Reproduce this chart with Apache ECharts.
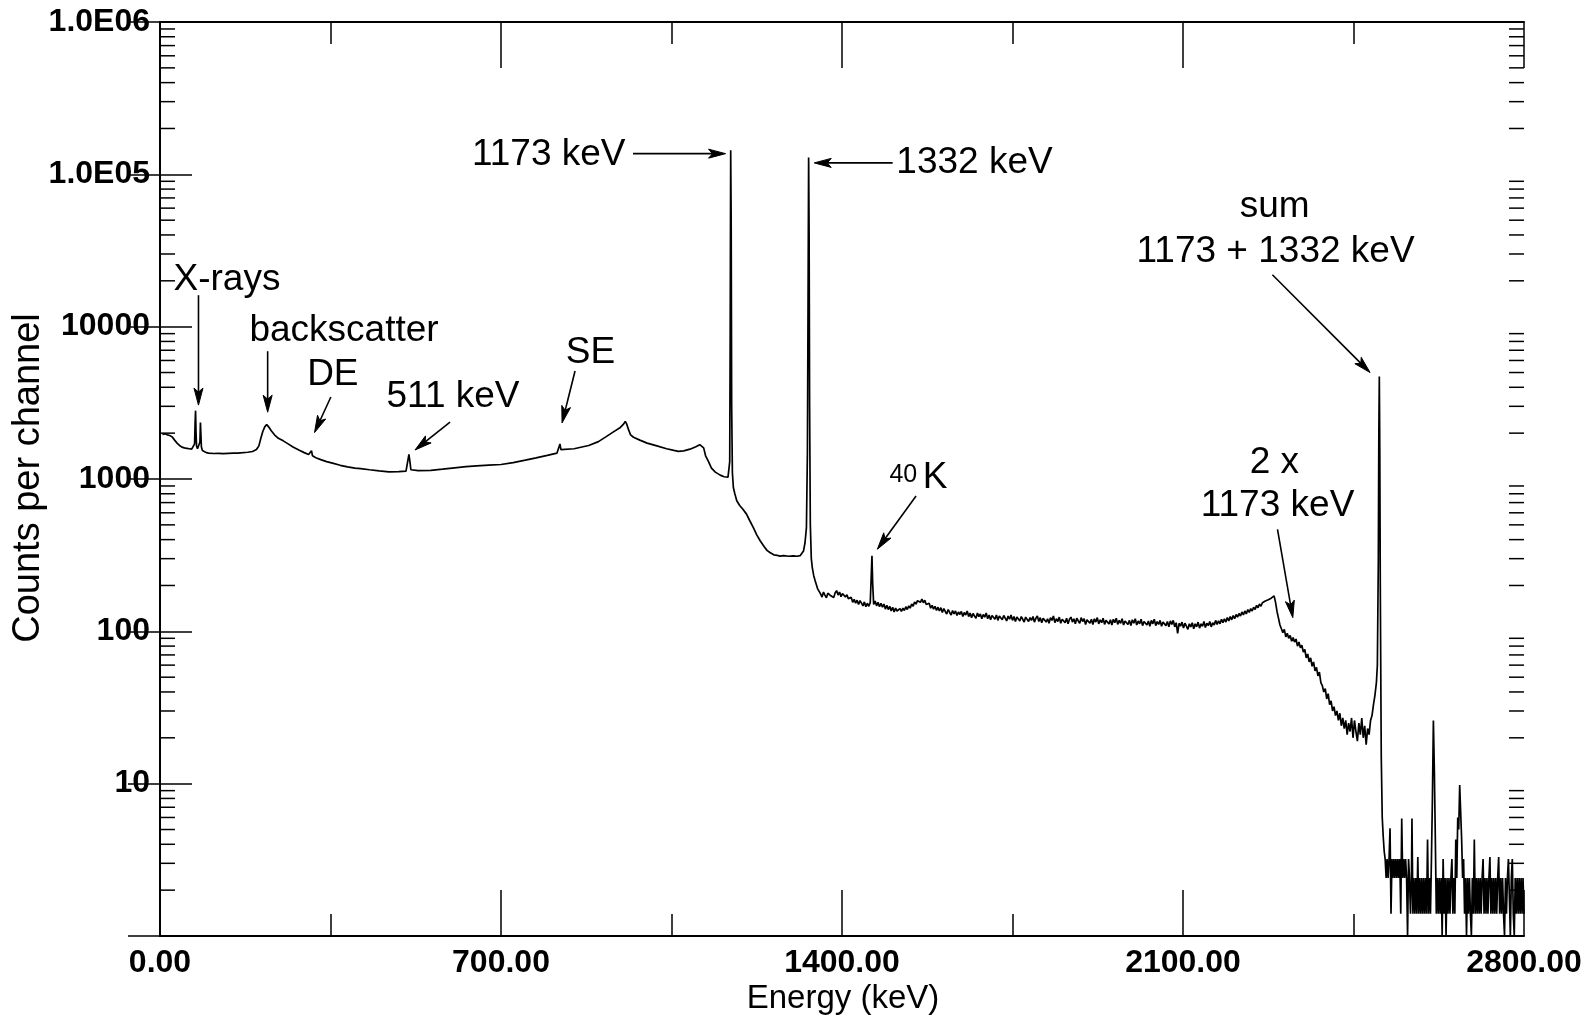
<!DOCTYPE html>
<html><head><meta charset="utf-8">
<script src="https://cdn.jsdelivr.net/npm/echarts@6/dist/echarts.min.js"></script>
<style>html,body{margin:0;padding:0;background:#fff}#chart{width:1596px;height:1018px}</style>
</head><body><div id="chart"></div>
<script>
// ---- axis ticks / labels ----
const xTickValues = [0, 700, 1400, 2100, 2800];
const xTickLabels = ['0.00', '700.00', '1400.00', '2100.00', '2800.00'];
const yTickValues = [1, 10, 100, 1000, 10000, 100000, 1000000];
const yTickLabels = ['', '10', '100', '1000', '10000', '1.0E05', '1.0E06'];
const yMinorMultipliers = [2, 3, 4, 5, 6, 7, 8, 9];
const yDecades = [1, 10, 100, 1000, 10000, 100000];
const xAxisTitle = 'Energy (keV)';
const yAxisTitle = 'Counts per channel';

// ---- spectrum: [energy keV, counts per channel] ----
const lowRegion = [[5,1960],[10,1980],[15,1950],[20,1930],[25,1890],[30,1800],[35,1720],[40,1660],[45,1620],[50,1600],[55,1590],[60,1580],[65,1570],[69,1590],[71,1700],[72,2300],[73,2810],[74,2000],[75,1650],[77,1580],[80,1560],[82,1750],[83,2350],[84,1950],[85,1620],[87,1540],[90,1510],[95,1490],[100,1480],[110,1470],[120,1475],[130,1468],[140,1474],[150,1478],[160,1480],[170,1488],[180,1498],[190,1515],[198,1560],[203,1650],[207,1850],[211,2050],[215,2200],[219,2280],[223,2200],[228,2080],[235,1950],[243,1850],[253,1780],[263,1700],[273,1620],[285,1550],[296,1490],[305,1450],[309,1430],[311,1535],[313,1420],[320,1380],[330,1340],[342,1300],[354,1270],[370,1230],[385,1200],[400,1180],[412,1170],[430,1150],[450,1130],[470,1115],[490,1118],[505,1125],[509,1140],[511,1450],[513,1300],[515,1150],[530,1135],[556,1140],[580,1160],[600,1180],[628,1205],[650,1220],[675,1235],[700,1245],[725,1280],[750,1330],[772,1377],[795,1430],[815,1480],[819,1490],[821,1700],[823,1560],[826,1520],[850,1580],[880,1660],[900,1760],[916,1897],[930,2030],[945,2180],[952,2300],[955,2390],[958,2300],[962,2100],[966,1950],[972,1880],[985,1800],[1000,1720],[1020,1650],[1040,1580],[1055,1540],[1064,1520],[1075,1530],[1088,1570],[1100,1630],[1108,1680],[1112,1700],[1116,1600],[1120,1420],[1126,1300],[1132,1180],[1140,1110],[1150,1060],[1158,1035],[1166,1030]];
const peak1173 = [[1168,1045],[1169.5,1300],[1170.5,9000],[1171.5,144000],[1172.5,50000],[1173.5,3000],[1175,1100],[1177,880]];
const comptonValley = [[1180,800],[1184,720],[1190,670],[1197,630],[1204,588],[1211,530],[1218,480],[1225,430],[1232,393],[1240,360],[1246,340],[1252,329],[1260,318],[1267,315],[1273,312],[1280,314],[1290,311],[1300,313],[1308,311],[1314,314],[1318,320],[1321,337],[1324,380],[1327,480]];
const peak1332 = [[1329,1500],[1330.5,20000],[1331.5,129000],[1332.5,40000],[1333.5,3000],[1335,500],[1337,300],[1339,262],[1342,232],[1345,214],[1350,190]];
const plateau = [[1356,176],[1359,168],[1362,181],[1365,173],[1368,166],[1371,178],[1374,183],[1377,171],[1380,176],[1383,167],[1386,179],[1389,185],[1392,173],[1395,181],[1398,169],[1401,177],[1404,182],[1407,168],[1410,174],[1413,164],[1416,161],[1419,167],[1422,155],[1425,162],[1428,153],[1431,160],[1434,150],[1437,159],[1440,153],[1443,147],[1446,156],[1449,145],[1452,153],[1455,146],[1458,154],[1460,230],[1461.5,313],[1463,205],[1465,150],[1468,158],[1471,147],[1474,155],[1477,145],[1480,153],[1483,144],[1486,151],[1489,140],[1492,148],[1495,139],[1498,146],[1501,136],[1504,144],[1507,134],[1510,142],[1513,136],[1516,132],[1519,141],[1522,135],[1525,142],[1528,137],[1531,145],[1534,139],[1537,147],[1540,142],[1543,151],[1546,146],[1549,156],[1552,151],[1555,159],[1558,162],[1561,155],[1564,163],[1567,154],[1570,160],[1573,150],[1576,147],[1579,153],[1582,142],[1585,148],[1588,140],[1591,146],[1594,137],[1597,144],[1600,136],[1603,143],[1606,133],[1609,141],[1612,135],[1615,130],[1618,139],[1621,133],[1624,128],[1627,137],[1630,130],[1633,136],[1636,127],[1639,134],[1642,129],[1645,135],[1648,125],[1651,133],[1654,128],[1657,136],[1660,125],[1663,132],[1666,123],[1669,131],[1672,126],[1675,122],[1678,132],[1681,125],[1684,130],[1687,121],[1690,129],[1693,124],[1696,132],[1699,121],[1702,128],[1705,119],[1708,127],[1711,130],[1714,120],[1717,128],[1720,118],[1723,126],[1726,129],[1729,119],[1732,127],[1735,122],[1738,117],[1741,126],[1744,120],[1747,128],[1750,118],[1753,125],[1756,116],[1759,124],[1762,127],[1765,117],[1768,125],[1771,120],[1774,115],[1777,124],[1780,127],[1783,116],[1786,123],[1789,118],[1792,125],[1795,115],[1798,122],[1801,126],[1804,116],[1807,123],[1810,114],[1813,122],[1816,125],[1819,115],[1822,121],[1825,113],[1828,123],[1831,118],[1834,126],[1837,114],[1840,121],[1843,116],[1846,124],[1849,113],[1852,120],[1855,123],[1858,114],[1861,122],[1864,112],[1867,120],[1870,124],[1873,115],[1876,121],[1879,112],[1882,122],[1885,117],[1888,113],[1891,123],[1894,116],[1897,121],[1900,111],[1903,119],[1906,122],[1909,113],[1912,120],[1915,111],[1918,121],[1921,115],[1924,123],[1927,112],[1930,119],[1933,114],[1936,122],[1939,111],[1942,118],[1945,121],[1948,112],[1951,119],[1954,110],[1957,120],[1960,114],[1963,122],[1966,111],[1969,118],[1972,113],[1975,121],[1978,110],[1981,117],[1984,120],[1987,111],[1990,118],[1993,109],[1996,119],[1999,113],[2002,121],[2005,110],[2008,117],[2011,112],[2014,120],[2017,109],[2020,116],[2023,119],[2026,110],[2029,117],[2032,108],[2035,118],[2038,112],[2041,120],[2044,109],[2047,116],[2050,111],[2053,118],[2056,108],[2059,115],[2062,118],[2065,109],[2068,116],[2071,107],[2074,117],[2077,111],[2080,118],[2083,107],[2086,114],[2089,97],[2092,113],[2095,108],[2098,115],[2101,105],[2104,113],[2107,108],[2110,103],[2113,112],[2116,107],[2119,114],[2122,104],[2125,112],[2128,107],[2131,115],[2134,105],[2137,112],[2140,108],[2143,116],[2146,106],[2149,113],[2152,109],[2155,116],[2158,107],[2161,114],[2164,110],[2167,118],[2170,111],[2173,117],[2176,112],[2179,120],[2182,114],[2185,121],[2188,115],[2191,123],[2194,117],[2197,125],[2200,119],[2203,127],[2206,121],[2209,129],[2212,124],[2215,131],[2218,126],[2221,134],[2224,128],[2227,136],[2230,130],[2233,139],[2236,133],[2239,141],[2242,136],[2245,144],[2248,139],[2251,148],[2254,143],[2257,151],[2260,146],[2263,154],[2266,150],[2269,158],[2272,154],[2275,161],[2278,157],[2281,165],[2284,168],[2287,171],[2290,155],[2293,135],[2296,122]];
const sumEdgeRegion = [[2299,110],[2302,104],[2305,98],[2308,103],[2311,92],[2314,97],[2317,90],[2320,94],[2323,86],[2326,91],[2329,85],[2332,89],[2335,80],[2338,85],[2341,78],[2344,81],[2347,73],[2350,76],[2353,67],[2356,71],[2359,63],[2362,67],[2365,59],[2368,63],[2371,55],[2374,58],[2377,51],[2380,54],[2383,46],[2386,44],[2389,40],[2392,42],[2395,36],[2398,39],[2401,33],[2404,35],[2407,30],[2410,32],[2413,28],[2416,30],[2419,26],[2422,29],[2425,24],[2428,27],[2431,23],[2434,26],[2437,21],[2440,25],[2443,22],[2446,27],[2449,20],[2452,26],[2455,22],[2458,19],[2461,25],[2464,21],[2467,27],[2470,20],[2473,24],[2476,18],[2479,23],[2482,21],[2485,26],[2488,28],[2491,33],[2494,38],[2497,46],[2499,60]];
const sumPeak = [[2501,300],[2502,2000],[2503,4700],[2504,1500],[2505,200],[2507,15],[2509,6],[2511,4.5],[2513,3.6]];
const tail = [[2515,3.2],[2517,2.4],[2519,3.2],[2521,2.4],[2523,3.2],[2525,5.1],[2527,1.4],[2529,3.2],[2531,2.4],[2533,3.2],[2535,2.4],[2537,3.2],[2539,2.4],[2541,3.2],[2543,2.4],[2545,3.2],[2547,1.4],[2549,5.9],[2551,2.4],[2553,3.2],[2555,2.4],[2557,3.2],[2559,2.4],[2561,1],[2563,3.2],[2565,2.4],[2567,1.4],[2569,2.4],[2570,5.9],[2572,1.4],[2574,2.4],[2576,1.4],[2578,2.4],[2580,1.4],[2582,3.3],[2584,1.4],[2586,2.4],[2588,1.4],[2590,2.4],[2592,1.4],[2594,2.4],[2596,1.4],[2598,2.4],[2600,1.4],[2602,4.3],[2604,1.4],[2606,2.4],[2608,1.4],[2610,3.2],[2612,8],[2614,26],[2616,12],[2618,4.3],[2620,1.4],[2622,2.4],[2624,1.4],[2626,2.4],[2628,1.4],[2630,2.4],[2632,1],[2634,3.2],[2636,1.4],[2638,2.4],[2640,1],[2642,2.4],[2644,1.4],[2646,2.4],[2648,1.4],[2650,2.4],[2652,3.2],[2654,1.4],[2656,2.4],[2658,1.4],[2660,4.3],[2662,2.4],[2664,6],[2666,5],[2668,9.8],[2670,6.5],[2672,4.3],[2674,2.4],[2676,3.2],[2678,1.4],[2680,2.4],[2682,1],[2684,2.4],[2686,1.4],[2688,2.4],[2690,1.4],[2692,1],[2694,2.4],[2696,1.4],[2698,4.3],[2700,1.4],[2702,2.4],[2704,1.4],[2706,2.4],[2708,1.4],[2710,2.4],[2712,1.4],[2714,2.4],[2716,3.2],[2718,1.4],[2720,2.4],[2722,1.4],[2724,2.4],[2726,1.4],[2728,2.4],[2730,3.3],[2732,1.4],[2734,2.4],[2736,1.4],[2738,2.4],[2740,1.4],[2742,2.4],[2744,1.4],[2746,2.4],[2748,3.3],[2750,1.4],[2752,2.4],[2754,1.4],[2756,2.4],[2758,1.4],[2760,1],[2762,2.4],[2764,1.4],[2766,2.4],[2768,3.2],[2770,3.2],[2772,1],[2774,2.4],[2776,3.2],[2778,1.4],[2780,1],[2782,2.4],[2784,1.4],[2786,2.4],[2788,1.4],[2790,2.4],[2792,1.4],[2794,2.4],[2796,1.4],[2798,2.4],[2800,1.4]];

// ---- annotations (text, energy, counts, font px) and arrows (from -> to) ----
const annotationTexts = [
  ['1173 keV', 798, 134600, 37],
  ['1332 keV', 1672, 118900, 37],
  ['sum', 2288, 61400, 37],
  ['1173 + 1332 keV', 2290, 31200, 37],
  ['X-rays', 137.5, 20300, 37],
  ['backscatter', 377.7, 9400, 37],
  ['DE', 354.8, 4850, 37],
  ['511 keV', 601.5, 3453, 37],
  ['SE', 883.6, 6700, 37],
  ['40', 1525.9, 1062, 25],
  ['K', 1591, 1011, 37],
  ['2 x', 2287.7, 1272, 37],
  ['1173 keV', 2294, 666, 37]
];
const arrows = [
  [971, 136700, 1161, 136700],
  [1504, 118900, 1343, 118900],
  [2283.5, 21900, 2484, 5000],
  [79, 16090, 79, 3055],
  [221, 6900, 221, 2745],
  [350.7, 3453, 317.2, 2017],
  [595.4, 2366, 523.5, 1550],
  [852, 5117, 825.3, 2332],
  [1552, 773, 1472.6, 346],
  [2294, 467, 2325.4, 123]
];

const spectrum = [].concat(lowRegion, peak1173, comptonValley, peak1332, plateau, sumEdgeRegion, sumPeak, tail);
const yMinorTicks = [];
yDecades.forEach(d => yMinorMultipliers.forEach(m => yMinorTicks.push(d * m)));

const FONT = 'Liberation Sans, Arial, Helvetica, sans-serif';
const yLabelOf = v => {
  for (let i = 0; i < yTickValues.length; i++) if (Math.abs(Math.log10(v) - Math.log10(yTickValues[i])) < 1e-6) return yTickLabels[i];
  return '';
};
const xLabelOf = v => {
  const i = xTickValues.indexOf(Math.round(v));
  return i >= 0 ? xTickLabels[i] : '';
};

const chart = echarts.init(document.getElementById('chart'), null, {renderer: 'canvas'});
const axisLine = {show: true, lineStyle: {color: '#000', width: 2}};
chart.setOption({
  animation: false,
  backgroundColor: '#fff',
  grid: {left: 160, right: 72, top: 22, bottom: 82, containLabel: false},
  graphic: [
    {type: 'text', x: 843, y: 999, silent: true,
     style: {text: xAxisTitle, font: '33px ' + FONT, fill: '#000', textAlign: 'center', textVerticalAlign: 'middle'}},
    {type: 'text', x: 28.5, y: 478, rotation: Math.PI / 2, silent: true,
     style: {text: yAxisTitle, font: '38px ' + FONT, fill: '#000', textAlign: 'center', textVerticalAlign: 'middle'}}
  ],
  xAxis: [
    {type: 'value', position: 'bottom', min: 0, max: 2800, interval: 700,
     axisLine, splitLine: {show: false},
     axisTick: {show: true, inside: true, length: 46, lineStyle: {color: '#000', width: 1.5}},
     minorTick: {show: true, splitNumber: 2, length: 22, lineStyle: {color: '#000', width: 1.5}},
     axisLabel: {formatter: xLabelOf, fontFamily: FONT, fontSize: 32, fontWeight: 'bold', color: '#000', margin: 11}},
    {type: 'value', position: 'top', min: 0, max: 2800, interval: 700,
     axisLine, splitLine: {show: false},
     axisTick: {show: true, inside: true, length: 46, lineStyle: {color: '#000', width: 1.5}},
     minorTick: {show: true, splitNumber: 2, length: 22, lineStyle: {color: '#000', width: 1.5}},
     axisLabel: {show: false}}
  ],
  yAxis: [
    {type: 'log', logBase: 10, position: 'left', min: 1, max: 1000000, splitNumber: 6,
     axisLine, splitLine: {show: false},
     axisTick: {show: true, inside: true, length: 32, lineStyle: {color: '#000', width: 1.5}},
     axisLabel: {formatter: yLabelOf, fontFamily: FONT, fontSize: 32, fontWeight: 'bold', color: '#000', margin: 10}},
    {type: 'log', logBase: 10, position: 'right', min: 1, max: 1000000, splitNumber: 6,
     axisLine, splitLine: {show: false},
     axisTick: {show: true, inside: true, length: 32, lineStyle: {color: '#000', width: 1.5}},
     axisLabel: {show: false}}
  ],
  series: [
    {type: 'line', name: 'spectrum', xAxisIndex: 0, yAxisIndex: 0, data: spectrum,
     showSymbol: false, symbol: 'none', sampling: null, silent: true, clip: true,
     lineStyle: {color: '#000', width: 1.7}, z: 3},
    {type: 'custom', name: 'yMinorTicks', xAxisIndex: 0, yAxisIndex: 0, silent: true, clip: true,
     data: yMinorTicks.map(v => [0, v]),
     renderItem: (params, api) => {
       const l = api.coord([0, api.value(1)]);
       const r = api.coord([2800, api.value(1)]);
       return {type: 'group', children: [
         {type: 'line', shape: {x1: l[0], y1: l[1], x2: l[0] + 15, y2: l[1]}, style: {stroke: '#000', lineWidth: 1.5}},
         {type: 'line', shape: {x1: r[0] - 15, y1: r[1], x2: r[0], y2: r[1]}, style: {stroke: '#000', lineWidth: 1.5}}
       ]};
     }},
    {type: 'custom', name: 'arrows', xAxisIndex: 0, yAxisIndex: 0, silent: true, clip: false,
     data: arrows.map(a => [a[0], a[1], a[2], a[3]]),
     encode: {x: [0, 2], y: [1, 3]},
     renderItem: (params, api) => {
       const a = arrows[params.dataIndex];
       const p1 = api.coord([a[0], a[1]]);
       const p2 = api.coord([a[2], a[3]]);
       const dx = p2[0] - p1[0], dy = p2[1] - p1[1];
       const len = Math.sqrt(dx * dx + dy * dy);
       const ux = dx / len, uy = dy / len;
       const hl = 17, hw = 4.5;
       const bx = p2[0] - ux * hl, by = p2[1] - uy * hl;
       return {type: 'group', children: [
         {type: 'line', shape: {x1: p1[0], y1: p1[1], x2: bx + ux * 4, y2: by + uy * 4}, style: {stroke: '#000', lineWidth: 1.6}},
         {type: 'polygon', shape: {points: [[p2[0], p2[1]], [bx - uy * hw, by + ux * hw], [bx + ux * 4, by + uy * 4], [bx + uy * hw, by - ux * hw]]},
          style: {fill: '#000', stroke: '#000', lineWidth: 1}}
       ]};
     }},
    {type: 'custom', name: 'annotations', xAxisIndex: 0, yAxisIndex: 0, silent: true, clip: false,
     data: annotationTexts.map(t => [t[1], t[2]]),
     renderItem: (params, api) => {
       const t = annotationTexts[params.dataIndex];
       const p = api.coord([t[1], t[2]]);
       return {type: 'text', x: p[0], y: p[1],
         style: {text: t[0], fill: '#000', font: t[3] + 'px ' + FONT, textAlign: 'center', textVerticalAlign: 'middle'}};
     }}
  ]
});
</script>
</body></html>
